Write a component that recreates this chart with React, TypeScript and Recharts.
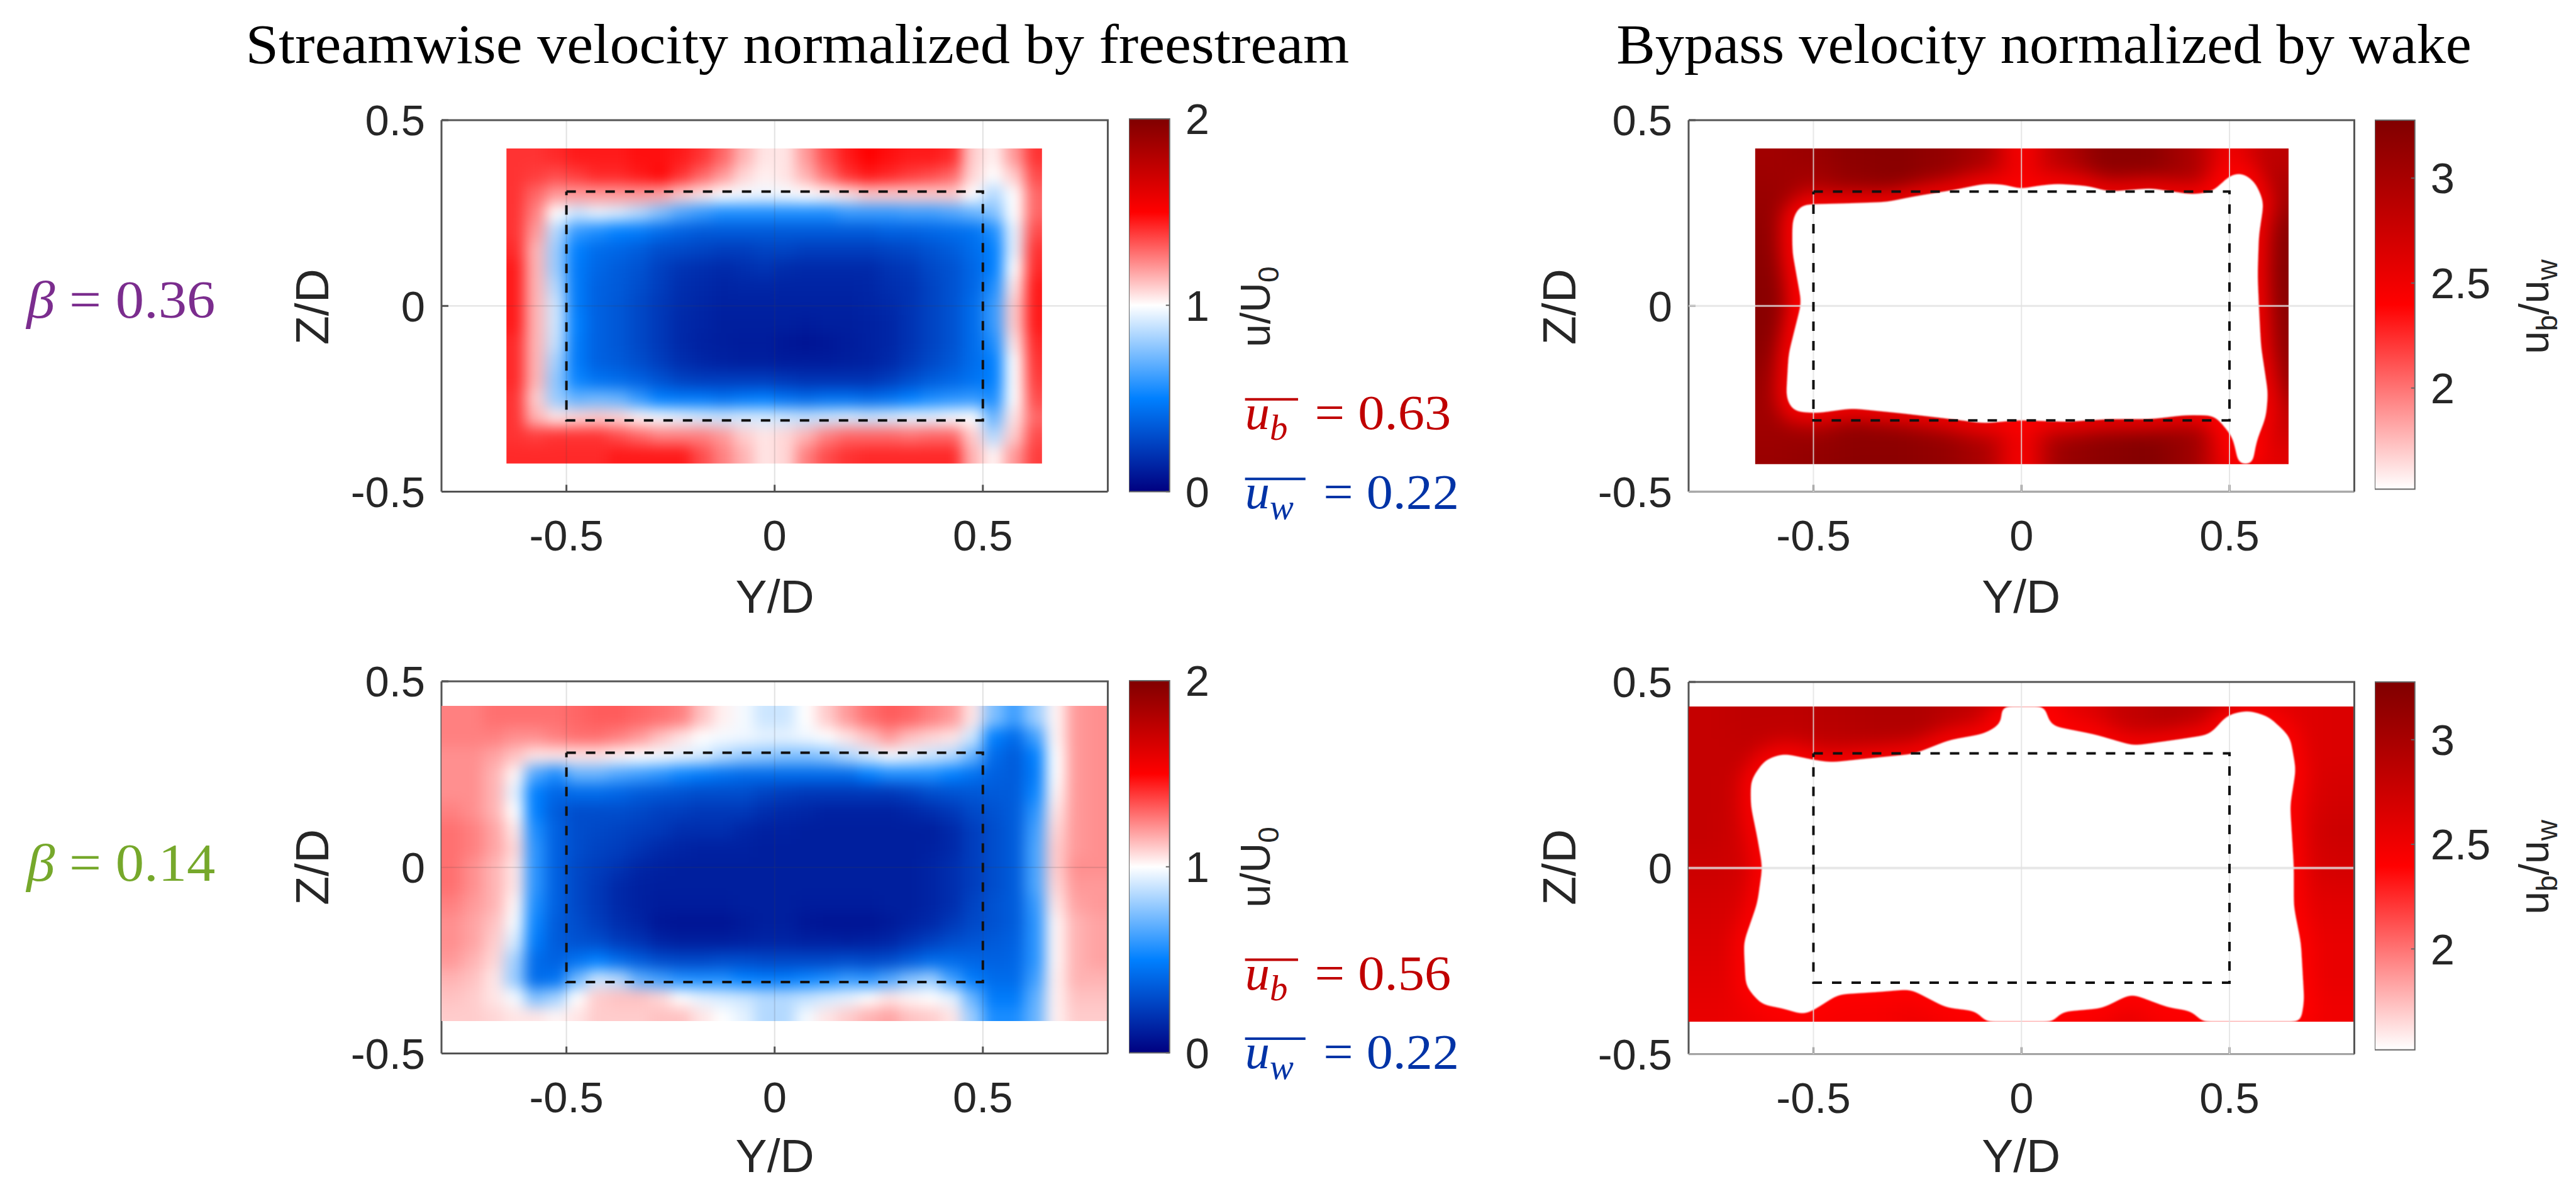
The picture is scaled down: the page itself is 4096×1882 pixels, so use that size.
import { ScatterChart, Scatter, XAxis, YAxis, ReferenceArea } from "recharts"

const S = 0.981
const SANS = "Liberation Sans, Arial, sans-serif"
const SERIF = "Liberation Serif, serif"
const INK = "#262626"
const AXIS_INK = "#555555"

const yTicks = [-0.5, 0, 0.5]
const zTicks = [-0.5, 0, 0.5]
const bodyEdge = 0.308

// streamwise velocity, beta 0.36. rows run from z=0.40 down to z=-0.40
const p1Y = [-0.625, -0.575, -0.525, -0.475, -0.425, -0.375, -0.325, -0.275, -0.225, -0.175, -0.125, -0.075, -0.025, 0.025, 0.075, 0.125, 0.175, 0.225, 0.275, 0.325, 0.375, 0.425, 0.475, 0.525, 0.575, 0.625]
const rowZ = [0.4, 0.35, 0.3, 0.25, 0.2, 0.15, 0.1, 0.05, 0, -0.05, -0.1, -0.15, -0.2, -0.25, -0.3, -0.35, -0.4]
const p1Rows = [
  [1.4, 1.4, 1.42, 1.45, 1.45, 1.45, 1.47, 1.47, 1.45, 1.4, 1.3, 1.15, 1.05, 1.05, 1.2, 1.35, 1.45, 1.5, 1.47, 1.45, 1.45, 1.42, 1.1, 1.03, 1.2, 1.4],
  [1.4, 1.38, 1.35, 1.38, 1.42, 1.42, 1.45, 1.48, 1.4, 1.3, 1.2, 1.08, 1.03, 1.05, 1.15, 1.28, 1.4, 1.45, 1.42, 1.38, 1.35, 1.3, 1.08, 1.0, 1.1, 1.35],
  [1.4, 1.3, 1.2, 1.2, 1.2, 1.2, 1.2, 1.18, 1.1, 1.05, 1.0, 0.98, 0.97, 0.98, 1.0, 1.02, 1.05, 1.1, 1.1, 1.1, 1.1, 1.1, 1.0, 0.85, 1.0, 1.3],
  [1.4, 1.25, 1.0, 0.9, 0.95, 0.92, 0.85, 0.75, 0.65, 0.6, 0.55, 0.55, 0.55, 0.55, 0.55, 0.55, 0.6, 0.6, 0.6, 0.62, 0.62, 0.65, 0.7, 0.75, 1.0, 1.3],
  [1.4, 1.2, 0.85, 0.6, 0.55, 0.5, 0.48, 0.42, 0.38, 0.35, 0.35, 0.35, 0.35, 0.35, 0.35, 0.35, 0.35, 0.35, 0.38, 0.38, 0.4, 0.42, 0.45, 0.55, 0.95, 1.35],
  [1.42, 1.15, 0.8, 0.5, 0.42, 0.4, 0.36, 0.3, 0.28, 0.26, 0.24, 0.24, 0.26, 0.26, 0.24, 0.24, 0.24, 0.24, 0.26, 0.28, 0.32, 0.36, 0.42, 0.5, 0.95, 1.4],
  [1.45, 1.15, 0.8, 0.48, 0.4, 0.36, 0.32, 0.25, 0.2, 0.18, 0.16, 0.18, 0.2, 0.17, 0.16, 0.16, 0.16, 0.16, 0.2, 0.22, 0.28, 0.32, 0.4, 0.5, 1.0, 1.42],
  [1.45, 1.15, 0.85, 0.48, 0.38, 0.35, 0.3, 0.24, 0.18, 0.16, 0.14, 0.15, 0.15, 0.14, 0.14, 0.14, 0.14, 0.15, 0.18, 0.2, 0.26, 0.32, 0.4, 0.55, 1.05, 1.45],
  [1.45, 1.15, 0.9, 0.48, 0.38, 0.34, 0.28, 0.22, 0.17, 0.15, 0.13, 0.13, 0.13, 0.13, 0.13, 0.13, 0.13, 0.14, 0.16, 0.2, 0.26, 0.32, 0.42, 0.6, 1.1, 1.45],
  [1.45, 1.15, 0.9, 0.5, 0.38, 0.34, 0.28, 0.22, 0.16, 0.14, 0.12, 0.12, 0.12, 0.12, 0.11, 0.12, 0.12, 0.13, 0.15, 0.2, 0.26, 0.32, 0.42, 0.6, 1.1, 1.45],
  [1.42, 1.15, 0.88, 0.48, 0.38, 0.34, 0.28, 0.22, 0.16, 0.13, 0.12, 0.11, 0.11, 0.09, 0.08, 0.09, 0.11, 0.13, 0.15, 0.2, 0.26, 0.32, 0.42, 0.55, 1.05, 1.42],
  [1.42, 1.15, 0.82, 0.48, 0.38, 0.35, 0.3, 0.24, 0.18, 0.15, 0.13, 0.12, 0.12, 0.11, 0.11, 0.11, 0.12, 0.13, 0.16, 0.22, 0.28, 0.34, 0.42, 0.5, 1.0, 1.4],
  [1.42, 1.15, 0.78, 0.52, 0.45, 0.42, 0.38, 0.32, 0.26, 0.24, 0.24, 0.24, 0.24, 0.22, 0.2, 0.2, 0.2, 0.2, 0.24, 0.3, 0.36, 0.4, 0.45, 0.5, 1.0, 1.38],
  [1.4, 1.1, 0.8, 0.7, 0.72, 0.7, 0.6, 0.5, 0.48, 0.48, 0.45, 0.48, 0.5, 0.45, 0.42, 0.45, 0.45, 0.42, 0.45, 0.5, 0.55, 0.58, 0.6, 0.55, 1.0, 1.35],
  [1.4, 1.15, 1.05, 1.08, 1.1, 1.08, 1.02, 0.98, 0.95, 0.92, 0.9, 0.92, 0.92, 0.9, 0.88, 0.9, 0.92, 0.9, 0.92, 0.95, 0.95, 0.98, 1.0, 0.7, 1.05, 1.3],
  [1.4, 1.38, 1.4, 1.4, 1.4, 1.35, 1.3, 1.25, 1.25, 1.25, 1.2, 1.1, 1.05, 1.08, 1.15, 1.25, 1.3, 1.3, 1.3, 1.28, 1.3, 1.3, 1.1, 0.85, 1.1, 1.35],
  [1.42, 1.42, 1.42, 1.42, 1.42, 1.45, 1.45, 1.45, 1.45, 1.35, 1.25, 1.15, 1.05, 1.08, 1.25, 1.35, 1.4, 1.42, 1.42, 1.42, 1.42, 1.42, 1.15, 1.02, 1.2, 1.38],
]

// streamwise velocity, beta 0.14
const p3Y = [-0.775, -0.725, -0.675, -0.625, -0.575, -0.525, -0.475, -0.425, -0.375, -0.325, -0.275, -0.225, -0.175, -0.125, -0.075, -0.025, 0.025, 0.075, 0.125, 0.175, 0.225, 0.275, 0.325, 0.375, 0.425, 0.475, 0.525, 0.575, 0.625, 0.675, 0.725, 0.775]
const p3Rows = [
  [1.25, 1.25, 1.28, 1.28, 1.28, 1.28, 1.3, 1.32, 1.32, 1.3, 1.28, 1.25, 1.12, 1.03, 0.98, 0.9, 0.9, 1.0, 1.1, 1.2, 1.28, 1.32, 1.3, 1.25, 1.2, 1.05, 0.75, 0.62, 0.8, 1.02, 1.2, 1.22],
  [1.25, 1.25, 1.25, 1.22, 1.22, 1.25, 1.28, 1.28, 1.25, 1.2, 1.12, 1.05, 1.0, 0.98, 0.97, 0.95, 0.95, 0.97, 1.0, 1.05, 1.12, 1.2, 1.12, 1.08, 1.05, 0.9, 0.5, 0.42, 0.62, 1.02, 1.2, 1.22],
  [1.22, 1.22, 1.18, 1.12, 1.05, 1.05, 1.05, 1.05, 1.02, 1.0, 0.98, 0.95, 0.92, 0.85, 0.8, 0.78, 0.75, 0.75, 0.78, 0.85, 0.92, 0.98, 0.95, 0.9, 0.85, 0.7, 0.42, 0.36, 0.5, 1.0, 1.2, 1.22],
  [1.22, 1.22, 1.15, 1.02, 0.65, 0.55, 0.7, 0.7, 0.65, 0.62, 0.58, 0.52, 0.48, 0.45, 0.42, 0.42, 0.42, 0.42, 0.42, 0.42, 0.5, 0.55, 0.55, 0.55, 0.5, 0.45, 0.38, 0.36, 0.48, 1.0, 1.2, 1.22],
  [1.22, 1.22, 1.15, 0.95, 0.5, 0.4, 0.42, 0.42, 0.4, 0.36, 0.34, 0.32, 0.3, 0.3, 0.3, 0.26, 0.24, 0.22, 0.22, 0.22, 0.22, 0.22, 0.25, 0.3, 0.32, 0.34, 0.35, 0.36, 0.52, 1.02, 1.2, 1.22],
  [1.25, 1.22, 1.15, 1.0, 0.5, 0.36, 0.3, 0.3, 0.3, 0.28, 0.25, 0.24, 0.22, 0.22, 0.22, 0.18, 0.16, 0.15, 0.13, 0.13, 0.13, 0.13, 0.15, 0.18, 0.22, 0.28, 0.32, 0.36, 0.58, 1.05, 1.2, 1.22],
  [1.28, 1.25, 1.18, 1.05, 0.55, 0.38, 0.3, 0.28, 0.26, 0.24, 0.22, 0.18, 0.18, 0.18, 0.15, 0.13, 0.13, 0.12, 0.12, 0.12, 0.12, 0.12, 0.12, 0.12, 0.16, 0.24, 0.3, 0.36, 0.62, 1.08, 1.2, 1.22],
  [1.28, 1.25, 1.18, 1.08, 0.58, 0.38, 0.3, 0.26, 0.24, 0.2, 0.16, 0.14, 0.13, 0.13, 0.13, 0.12, 0.12, 0.12, 0.12, 0.12, 0.12, 0.12, 0.12, 0.13, 0.16, 0.24, 0.3, 0.36, 0.64, 1.1, 1.2, 1.22],
  [1.28, 1.22, 1.15, 1.05, 0.58, 0.38, 0.28, 0.24, 0.2, 0.15, 0.13, 0.12, 0.12, 0.12, 0.12, 0.12, 0.12, 0.12, 0.12, 0.12, 0.12, 0.12, 0.12, 0.14, 0.18, 0.24, 0.3, 0.36, 0.64, 1.1, 1.22, 1.22],
  [1.28, 1.22, 1.15, 1.05, 0.58, 0.38, 0.28, 0.22, 0.16, 0.13, 0.12, 0.12, 0.12, 0.12, 0.12, 0.12, 0.12, 0.12, 0.12, 0.12, 0.12, 0.12, 0.12, 0.14, 0.18, 0.24, 0.3, 0.36, 0.64, 1.08, 1.2, 1.2],
  [1.25, 1.2, 1.15, 1.02, 0.55, 0.38, 0.28, 0.22, 0.16, 0.13, 0.11, 0.11, 0.11, 0.11, 0.12, 0.12, 0.12, 0.11, 0.11, 0.11, 0.11, 0.12, 0.12, 0.14, 0.18, 0.26, 0.32, 0.36, 0.6, 1.05, 1.18, 1.2],
  [1.22, 1.18, 1.12, 0.98, 0.52, 0.36, 0.3, 0.24, 0.18, 0.14, 0.09, 0.08, 0.08, 0.08, 0.1, 0.12, 0.12, 0.09, 0.08, 0.08, 0.08, 0.1, 0.13, 0.16, 0.22, 0.28, 0.32, 0.36, 0.58, 1.02, 1.15, 1.18],
  [1.22, 1.18, 1.1, 0.92, 0.48, 0.36, 0.32, 0.3, 0.24, 0.2, 0.14, 0.12, 0.12, 0.12, 0.13, 0.14, 0.14, 0.13, 0.13, 0.12, 0.13, 0.15, 0.2, 0.25, 0.3, 0.33, 0.35, 0.38, 0.58, 1.02, 1.15, 1.18],
  [1.2, 1.15, 1.08, 0.82, 0.42, 0.38, 0.45, 0.5, 0.42, 0.36, 0.3, 0.28, 0.28, 0.3, 0.3, 0.28, 0.28, 0.28, 0.28, 0.3, 0.28, 0.3, 0.36, 0.42, 0.42, 0.4, 0.38, 0.4, 0.58, 1.02, 1.15, 1.18],
  [1.15, 1.12, 1.05, 0.8, 0.42, 0.45, 0.72, 0.9, 0.85, 0.68, 0.62, 0.56, 0.55, 0.55, 0.5, 0.48, 0.48, 0.52, 0.55, 0.6, 0.58, 0.65, 0.75, 0.8, 0.62, 0.48, 0.42, 0.42, 0.62, 1.03, 1.15, 1.15],
  [1.12, 1.1, 1.05, 0.98, 0.75, 0.82, 1.0, 1.1, 1.12, 1.12, 1.08, 1.0, 0.95, 0.92, 0.9, 0.85, 0.85, 0.88, 0.92, 0.95, 1.0, 1.05, 1.02, 1.0, 0.95, 0.7, 0.48, 0.48, 0.68, 1.03, 1.12, 1.12],
  [1.1, 1.1, 1.08, 1.05, 1.05, 1.02, 1.05, 1.1, 1.1, 1.1, 1.12, 1.12, 1.05, 1.0, 0.95, 0.85, 0.85, 0.98, 1.05, 1.1, 1.15, 1.18, 1.12, 1.1, 1.05, 0.8, 0.55, 0.55, 0.7, 1.03, 1.1, 1.1],
]

// bypass velocity over wake velocity, coarse field behind the white region
const coarseZ = [0.4, 0.3, 0.2, 0.1, 0, -0.1, -0.2, -0.3, -0.4]
const p2Y = [-0.6, -0.5, -0.4, -0.3, -0.2, -0.1, 0, 0.1, 0.2, 0.3, 0.4, 0.5, 0.6]
const p2Rows = [
  [3.05, 3.1, 3.2, 3.22, 3.15, 3.0, 2.45, 2.9, 3.2, 3.2, 3.0, 2.5, 2.85],
  [3.1, 2.95, 3.1, 3.2, 3.1, 2.9, 2.5, 2.8, 3.1, 3.15, 3.0, 2.5, 3.0],
  [3.15, 2.4, 2.4, 2.4, 2.4, 2.4, 2.4, 2.4, 2.4, 2.4, 2.4, 2.4, 3.2],
  [3.2, 2.4, 2.4, 2.4, 2.4, 2.4, 2.4, 2.4, 2.4, 2.4, 2.4, 2.4, 3.22],
  [3.22, 2.4, 2.4, 2.4, 2.4, 2.4, 2.4, 2.4, 2.4, 2.4, 2.4, 2.4, 3.2],
  [3.2, 2.4, 2.4, 2.4, 2.4, 2.4, 2.4, 2.4, 2.4, 2.4, 2.4, 2.4, 3.15],
  [3.1, 2.4, 2.4, 2.4, 2.4, 2.4, 2.4, 2.4, 2.4, 2.4, 2.4, 2.4, 3.1],
  [3.05, 3.0, 3.15, 3.15, 3.1, 2.9, 2.5, 3.0, 3.15, 3.2, 3.1, 2.6, 2.8],
  [3.1, 3.15, 3.2, 3.2, 3.15, 3.0, 2.45, 3.1, 3.2, 3.25, 3.1, 2.5, 2.6],
]
const p4Y = [-0.75, -0.65, -0.55, -0.45, -0.35, -0.25, -0.15, -0.05, 0.05, 0.15, 0.25, 0.35, 0.45, 0.55, 0.65, 0.75]
const p4Rows = [
  [2.8, 2.85, 2.85, 2.9, 2.95, 2.95, 2.85, 2.7, 2.45, 2.6, 2.8, 2.9, 2.85, 2.6, 2.6, 2.65],
  [2.8, 2.8, 2.75, 2.8, 2.85, 2.85, 2.7, 2.5, 2.45, 2.55, 2.75, 2.85, 2.7, 2.5, 2.6, 2.65],
  [2.8, 2.75, 2.5, 2.45, 2.45, 2.45, 2.45, 2.45, 2.45, 2.45, 2.45, 2.45, 2.45, 2.45, 2.55, 2.7],
  [2.8, 2.7, 2.5, 2.45, 2.45, 2.45, 2.45, 2.45, 2.45, 2.45, 2.45, 2.45, 2.45, 2.45, 2.6, 2.75],
  [2.75, 2.7, 2.5, 2.45, 2.45, 2.45, 2.45, 2.45, 2.45, 2.45, 2.45, 2.45, 2.45, 2.45, 2.6, 2.7],
  [2.7, 2.65, 2.5, 2.45, 2.45, 2.45, 2.45, 2.45, 2.45, 2.45, 2.45, 2.45, 2.45, 2.45, 2.55, 2.6],
  [2.65, 2.6, 2.45, 2.45, 2.45, 2.45, 2.45, 2.45, 2.45, 2.45, 2.45, 2.45, 2.45, 2.45, 2.5, 2.55],
  [2.6, 2.55, 2.45, 2.45, 2.45, 2.45, 2.45, 2.45, 2.45, 2.45, 2.45, 2.45, 2.45, 2.45, 2.5, 2.55],
  [2.55, 2.5, 2.45, 2.45, 2.45, 2.5, 2.45, 2.4, 2.4, 2.45, 2.55, 2.45, 2.45, 2.45, 2.45, 2.5],
]

// outline of the white (below colour limit) region, [Y/D, Z/D]
const p2Hole = [
  [-0.533, 0.271], [-0.5, 0.273], [-0.425, 0.275], [-0.324, 0.279], [-0.258, 0.294], [-0.157, 0.3125], [-0.09, 0.328], [-0.04, 0.326], [-0.003, 0.3135],
  [0.035, 0.322], [0.085, 0.328], [0.16, 0.322], [0.21, 0.307], [0.311, 0.316], [0.411, 0.299], [0.46, 0.307], [0.503, 0.353], [0.532, 0.358], [0.562, 0.332],
  [0.582, 0.279], [0.57, 0.189], [0.567, 0.083], [0.57, 0], [0.575, -0.108], [0.592, -0.235], [0.587, -0.299], [0.565, -0.362], [0.55, -0.45], [0.528, -0.45],
  [0.508, -0.352], [0.465, -0.294], [0.395, -0.293], [0.311, -0.304], [0.21, -0.304], [0.11, -0.311], [-0.007, -0.307], [-0.09, -0.315], [-0.19, -0.301],
  [-0.291, -0.288], [-0.408, -0.275], [-0.492, -0.288], [-0.55, -0.283], [-0.565, -0.246], [-0.559, -0.129], [-0.533, -0.013], [-0.528, 0.008], [-0.55, 0.146],
  [-0.55, 0.231], [-0.533, 0.271],
]
const p4Hole = [
  [-0.047, 0.46], [-0.047, 0.387], [-0.09, 0.36], [-0.174, 0.343], [-0.258, 0.306], [-0.383, 0.292], [-0.458, 0.283], [-0.5, 0.29], [-0.572, 0.307], [-0.617, 0.29],
  [-0.65, 0.236], [-0.65, 0.168], [-0.634, 0.081], [-0.622, 0.003], [-0.634, -0.094], [-0.667, -0.2], [-0.662, -0.318], [-0.625, -0.366], [-0.575, -0.376], [-0.522, -0.394],
  [-0.492, -0.376], [-0.441, -0.339], [-0.341, -0.332], [-0.266, -0.325], [-0.182, -0.374], [-0.107, -0.384], [-0.065, -0.44], [0.057, -0.44], [0.094, -0.386], [0.194, -0.376],
  [0.264, -0.337], [0.353, -0.374], [0.411, -0.384], [0.457, -0.44], [0.666, -0.44], [0.679, -0.357], [0.671, -0.201], [0.654, -0.104], [0.654, 0.003], [0.645, 0.168],
  [0.659, 0.265], [0.645, 0.353], [0.595, 0.406], [0.545, 0.423], [0.495, 0.411], [0.453, 0.358], [0.378, 0.345], [0.269, 0.328], [0.177, 0.358], [0.069, 0.382], [0.048, 0.46],
  [-0.047, 0.46],
]

const cmapStops = [[0, 0, 128], [0, 128, 255], [255, 255, 255], [255, 0, 0], [128, 0, 0]]

function cmap(t: number) {
  const p = Math.min(0.9999, Math.max(0, t)) * (cmapStops.length - 1)
  const i = Math.floor(p)
  const f = p - i
  const c = cmapStops[i].map((a, k) => Math.round(a + (cmapStops[i + 1][k] - a) * f))
  return `rgb(${c[0]},${c[1]},${c[2]})`
}
const colorVelocity = (v: number) => cmap(v / 2)
const colorBypass = (v: number) => cmap(0.5 + (v - 1.52) / 1.76 / 2)

function toCells(ys: number[], zs: number[], rows: number[][]) {
  return rows.flatMap((row, r) =>
    row.map((v, c) => ({
      y: ys[c],
      z: zs[r],
      v,
      left: c === 0,
      right: c === row.length - 1,
      top: r === 0,
      bottom: r === rows.length - 1,
    }))
  )
}
const toPoints = (pts: number[][]) => pts.map(([y, z]) => ({ y, z }))

const noDot = () => null

interface PanelProps {
  id: string
  box: number[] // left right top bottom in reference px
  extent: number[] // data limits ymin ymax zmax zmin
  cells: any[]
  cellY: number
  cellZ: number
  color: (v: number) => string
  blur: string
  hole?: number[][]
  gridStroke: string
  zeroWidth: number
}

const YW = 300
const XH = 200
const PAD = 60

function Panel({ id, box, extent, cells, cellY, cellZ, color, blur, hole, gridStroke, zeroWidth }: PanelProps) {
  const [l, r, t, b] = box.map((v) => v * S)
  const w = r - l
  const h = b - t
  const pxY = w / 1.6
  const pxZ = h
  const bleed = 70
  const clipX = YW + (extent[0] + 0.8) * pxY
  const clipW = (extent[1] - extent[0]) * pxY
  const clipY = PAD + (0.5 - extent[2]) * pxZ
  const clipH = (extent[2] - extent[3]) * pxZ
  const cw = cellY * pxY
  const ch = cellZ * pxZ

  const cellShape = (p: any) => {
    const d = p.payload
    const x0 = p.cx - cw / 2 - (d.left ? bleed : 0)
    const x1 = p.cx + cw / 2 + (d.right ? bleed : 0) + 1
    const y0 = p.cy - ch / 2 - (d.top ? bleed : 0)
    const y1 = p.cy + ch / 2 + (d.bottom ? bleed : 0) + 1
    return <rect x={x0} y={y0} width={x1 - x0} height={y1 - y0} fill={color(d.v)} />
  }

  const tickFont = { fontSize: 68.7, fill: INK, fontFamily: SANS }
  const axisLine = { stroke: AXIS_INK, strokeWidth: 3 }

  const frame = [{ y: -0.8, z: 0.5 }, { y: 0.8, z: 0.5 }, { y: 0.8, z: -0.5 }]
  const body = [
    { y: -0.5, z: bodyEdge }, { y: 0.5, z: bodyEdge }, { y: 0.5, z: -bodyEdge }, { y: -0.5, z: -bodyEdge }, { y: -0.5, z: bodyEdge },
  ]

  return (
    <div style={{ position: "absolute", left: l - YW, top: t - PAD }}>
      <style>{`
        .heat-${id} { filter: url(#${blur}); clip-path: url(#clip-${id}); }
        .glow-${id} { filter: url(#blurGlow); clip-path: url(#clip-${id}); }
        .hole-${id} { filter: url(#blurEdge); clip-path: url(#clip-${id}); }
      `}</style>
      <svg width={0} height={0} style={{ position: "absolute" }}>
        <defs>
          <clipPath id={`clip-${id}`}>
            <rect x={clipX} y={clipY} width={clipW} height={clipH} />
          </clipPath>
        </defs>
      </svg>
      <ScatterChart
        width={YW + w + PAD}
        height={PAD + h + XH}
        margin={{ top: PAD, right: PAD, bottom: 0, left: 0 }}
      >
        <XAxis
          type="number"
          dataKey="y"
          domain={[-0.8, 0.8]}
          ticks={yTicks}
          height={XH}
          tick={tickFont}
          tickSize={-11}
          tickMargin={56}
          axisLine={axisLine}
          tickLine={axisLine}
          interval={0}
        />
        <YAxis
          type="number"
          dataKey="z"
          domain={[-0.5, 0.5]}
          ticks={zTicks}
          width={YW}
          tick={tickFont}
          tickSize={-11}
          tickMargin={37}
          axisLine={axisLine}
          tickLine={axisLine}
          interval={0}
        />
        <Scatter data={cells} shape={cellShape} className={`heat-${id}`} isAnimationActive={false} />
        {hole && (
          <Scatter
            data={toPoints(hole)}
            shape={noDot}
            line={{ stroke: "#ff0000", strokeWidth: 30, fill: "none" }}
            className={`glow-${id}`}
            isAnimationActive={false}
          />
        )}
        {hole && (
          <Scatter
            data={toPoints(hole)}
            shape={noDot}
            line={{ stroke: "#ffffff", strokeWidth: 1, fill: "#ffffff" }}
            className={`hole-${id}`}
            isAnimationActive={false}
          />
        )}
        {yTicks.map((v) => (
          <Scatter
            key={`gy${v}`}
            data={[{ y: v, z: -0.5 }, { y: v, z: 0.5 }]}
            shape={noDot}
            line={{ stroke: gridStroke, strokeWidth: 2 }}
            isAnimationActive={false}
          />
        ))}
        {zTicks.map((v) => (
          <Scatter
            key={`gz${v}`}
            data={[{ y: -0.8, z: v }, { y: 0.8, z: v }]}
            shape={noDot}
            line={{ stroke: gridStroke, strokeWidth: v === 0 ? zeroWidth : 2 }}
            isAnimationActive={false}
          />
        ))}
        <Scatter data={frame} shape={noDot} line={{ stroke: AXIS_INK, strokeWidth: 3 }} isAnimationActive={false} />
        <Scatter
          data={body}
          shape={noDot}
          line={{ stroke: "#111111", strokeWidth: 4, strokeDasharray: "15 16" }}
          isAnimationActive={false}
        />
      </ScatterChart>
    </div>
  )
}

const cbVelocityTicks = [0, 1, 2]
const cbBypassTicks = [2, 2.5, 3]
const cbBypassDomain = [1.518, 3.276]

function Colorbar({ box, domain, ticks, gradient }: { box: number[]; domain: number[]; ticks: number[]; gradient: string }) {
  const [l, r, t, b] = box.map((v) => v * S)
  const axisLine = { stroke: "#666666", strokeWidth: 2 }
  const ends = [{ x: 0, v: domain[0] }, { x: 1, v: domain[1] }]
  return (
    <div style={{ position: "absolute", left: l, top: t - PAD }}>
      <ScatterChart
        width={r - l + 160}
        height={b - t + 2 * PAD}
        margin={{ top: PAD, right: 0, bottom: PAD, left: 0 }}
      >
        <XAxis type="number" dataKey="x" domain={[0, 1]} hide />
        <YAxis
          type="number"
          dataKey="v"
          orientation="right"
          domain={domain}
          ticks={ticks}
          width={160}
          tick={{ fontSize: 68.7, fill: INK, fontFamily: SANS, textAnchor: "start" }}
          tickSize={-6}
          tickMargin={31}
          axisLine={false}
          tickLine={axisLine}
          interval={0}
        />
        <ReferenceArea
          x1={0}
          x2={1}
          y1={domain[0]}
          y2={domain[1]}
          fill={`url(#${gradient})`}
          fillOpacity={1}
          stroke="#666666"
          strokeWidth={2}
        />
        <Scatter data={ends} shape={noDot} isAnimationActive={false} />
      </ScatterChart>
    </div>
  )
}

function SubLabel({ x, y, base, sub1, sep, sub2 }: { x: number; y: number; base: string; sub1: string; sep?: string; sub2?: string }) {
  const fs = 66
  return (
    <text
      transform={`translate(${x * S},${y * S}) rotate(-90)`}
      textAnchor="middle"
      fontFamily={SANS}
      fontSize={fs}
      fill={INK}
    >
      {base}
      <tspan dy={14} fontSize={46}>{sub1}</tspan>
      {sep && <tspan dy={-14}>{sep}</tspan>}
      {sub2 && <tspan dy={14} fontSize={46}>{sub2}</tspan>}
    </text>
  )
}

function StatLabel({ x, base, over, color, sub, value, valueX, valueW }: { x: number; base: number; over: number[]; color: string; sub: string; value: string; valueX: number; valueW: number }) {
  return (
    <g fill={color} fontFamily={SERIF} fontSize={80 * S}>
      <line x1={over[0] * S} x2={over[1] * S} y1={(base - 48) * S} y2={(base - 48) * S} stroke={color} strokeWidth={4} />
      <text x={x * S} y={base * S} fontStyle="italic">
        u
        <tspan dy={17} fontSize={58 * S}>{sub}</tspan>
      </text>
      <text x={valueX * S} y={base * S} textLength={valueW * S} lengthAdjust="spacingAndGlyphs">
        {value}
      </text>
    </g>
  )
}

function Overlay() {
  const axisText = { fontFamily: SANS, fontSize: 75, fill: INK, textAnchor: "middle" as const }
  return (
    <svg width={4096} height={1882} style={{ position: "absolute", left: 0, top: 0, pointerEvents: "none" }}>
      <text x={398 * S} y={102 * S} fontFamily={SERIF} fontSize={88} fill="#000" textLength={1789 * S} lengthAdjust="spacingAndGlyphs">
        Streamwise velocity normalized by freestream
      </text>
      <text x={2620 * S} y={102 * S} fontFamily={SERIF} fontSize={88} fill="#000" textLength={1386 * S} lengthAdjust="spacingAndGlyphs">
        Bypass velocity normalized by wake
      </text>

      <text x={43 * S} y={515 * S} fontFamily={SERIF} fontSize={84} fill="#7B2D8E" textLength={306 * S} lengthAdjust="spacingAndGlyphs">
        <tspan fontStyle="italic">β</tspan> = 0.36
      </text>
      <text x={43 * S} y={1427 * S} fontFamily={SERIF} fontSize={84} fill="#76A82B" textLength={306 * S} lengthAdjust="spacingAndGlyphs">
        <tspan fontStyle="italic">β</tspan> = 0.14
      </text>

      {[1256, 3276].map((x) => (
        <g key={x}>
          <text x={x * S} y={993 * S} {...axisText}>Y/D</text>
          <text x={x * S} y={1899 * S} {...axisText}>Y/D</text>
        </g>
      ))}
      {[
        [532, 497],
        [2554, 497],
        [532, 1405],
        [2554, 1405],
      ].map(([x, y]) => (
        <text key={`${x}-${y}`} transform={`translate(${x * S},${y * S}) rotate(-90)`} {...axisText}>Z/D</text>
      ))}

      <SubLabel x={2058} y={497} base="u/U" sub1="0" />
      <SubLabel x={2058} y={1405} base="u/U" sub1="0" />
      <SubLabel x={4130} y={497} base="u" sub1="b" sep="/u" sub2="w" />
      <SubLabel x={4130} y={1405} base="u" sub1="b" sep="/u" sub2="w" />

      <StatLabel x={2018} base={695} over={[2018, 2104]} color="#C00000" sub="b" value="= 0.63" valueX={2131} valueW={221} />
      <StatLabel x={2018} base={824} over={[2018, 2116]} color="#0033A6" sub="w" value="= 0.22" valueX={2145} valueW={220} />
      <StatLabel x={2018} base={1603} over={[2018, 2104]} color="#C00000" sub="b" value="= 0.56" valueX={2131} valueW={221} />
      <StatLabel x={2018} base={1731} over={[2018, 2116]} color="#0033A6" sub="w" value="= 0.22" valueX={2145} valueW={220} />
    </svg>
  )
}

const gridOnLight = "rgba(70,70,70,0.16)"
const gridOnDark = "rgba(225,225,225,0.8)"

export default function App() {
  const stops = [0, 0.25, 0.5, 0.75, 1]
  return (
    <div style={{ position: "absolute", left: 0, top: 0, width: 4096, height: 1882, background: "#fff", overflow: "hidden" }}>
      <svg width={0} height={0} style={{ position: "absolute" }}>
        <defs>
          <filter id="blurHeat" x="-10%" y="-10%" width="120%" height="120%" colorInterpolationFilters="sRGB">
            <feGaussianBlur stdDeviation="11" />
          </filter>
          <filter id="blurField" x="-10%" y="-10%" width="120%" height="120%" colorInterpolationFilters="sRGB">
            <feGaussianBlur stdDeviation="22" />
          </filter>
          <filter id="blurGlow" x="-20%" y="-20%" width="140%" height="140%" colorInterpolationFilters="sRGB">
            <feGaussianBlur stdDeviation="11" />
          </filter>
          {/* rounds the outline corners, then leaves a soft edge */}
          <filter id="blurEdge" x="-5%" y="-5%" width="110%" height="110%" colorInterpolationFilters="sRGB">
            <feGaussianBlur stdDeviation="7" />
            <feColorMatrix type="matrix" values="1 0 0 0 0  0 1 0 0 0  0 0 1 0 0  0 0 0 16 -7.5" />
            <feGaussianBlur stdDeviation="1" />
          </filter>
          <linearGradient id="cbVelocity" x1="0" x2="0" y1="1" y2="0">
            {stops.map((s) => <stop key={s} offset={s} stopColor={cmap(s)} />)}
          </linearGradient>
          <linearGradient id="cbBypass" x1="0" x2="0" y1="1" y2="0">
            {[0.5, 0.75, 1].map((s) => <stop key={s} offset={(s - 0.5) * 2} stopColor={cmap(s)} />)}
          </linearGradient>
        </defs>
      </svg>

      <Panel id="p1" box={[716, 1796, 194.5, 796.5]} extent={[-0.644, 0.642, 0.424, -0.424]} cells={toCells(p1Y, rowZ, p1Rows)} cellY={0.05} cellZ={0.05} color={colorVelocity} blur="blurHeat" gridStroke={gridOnLight} zeroWidth={2} />
      <Panel id="p2" box={[2737, 3816, 195, 797]} extent={[-0.64, 0.642, 0.424, -0.426]} cells={toCells(p2Y, coarseZ, p2Rows)} cellY={0.1} cellZ={0.1} color={colorBypass} blur="blurField" hole={p2Hole} gridStroke={gridOnDark} zeroWidth={3} />
      <Panel id="p3" box={[716, 1796, 1104, 1707]} extent={[-0.8, 0.8, 0.434, -0.413]} cells={toCells(p3Y, rowZ, p3Rows)} cellY={0.05} cellZ={0.05} color={colorVelocity} blur="blurHeat" gridStroke={gridOnLight} zeroWidth={2} />
      <Panel id="p4" box={[2737, 3816, 1105, 1708]} extent={[-0.8, 0.8, 0.434, -0.413]} cells={toCells(p4Y, coarseZ, p4Rows)} cellY={0.1} cellZ={0.1} color={colorBypass} blur="blurField" hole={p4Hole} gridStroke={gridOnDark} zeroWidth={4} />

      <Colorbar box={[1830, 1896, 193, 797]} domain={[0, 2]} ticks={cbVelocityTicks} gradient="cbVelocity" />
      <Colorbar box={[3849, 3914, 195, 793]} domain={cbBypassDomain} ticks={cbBypassTicks} gradient="cbBypass" />
      <Colorbar box={[1830, 1896, 1102.5, 1705.5]} domain={[0, 2]} ticks={cbVelocityTicks} gradient="cbVelocity" />
      <Colorbar box={[3849, 3914, 1105, 1701]} domain={cbBypassDomain} ticks={cbBypassTicks} gradient="cbBypass" />

      <Overlay />
    </div>
  )
}
